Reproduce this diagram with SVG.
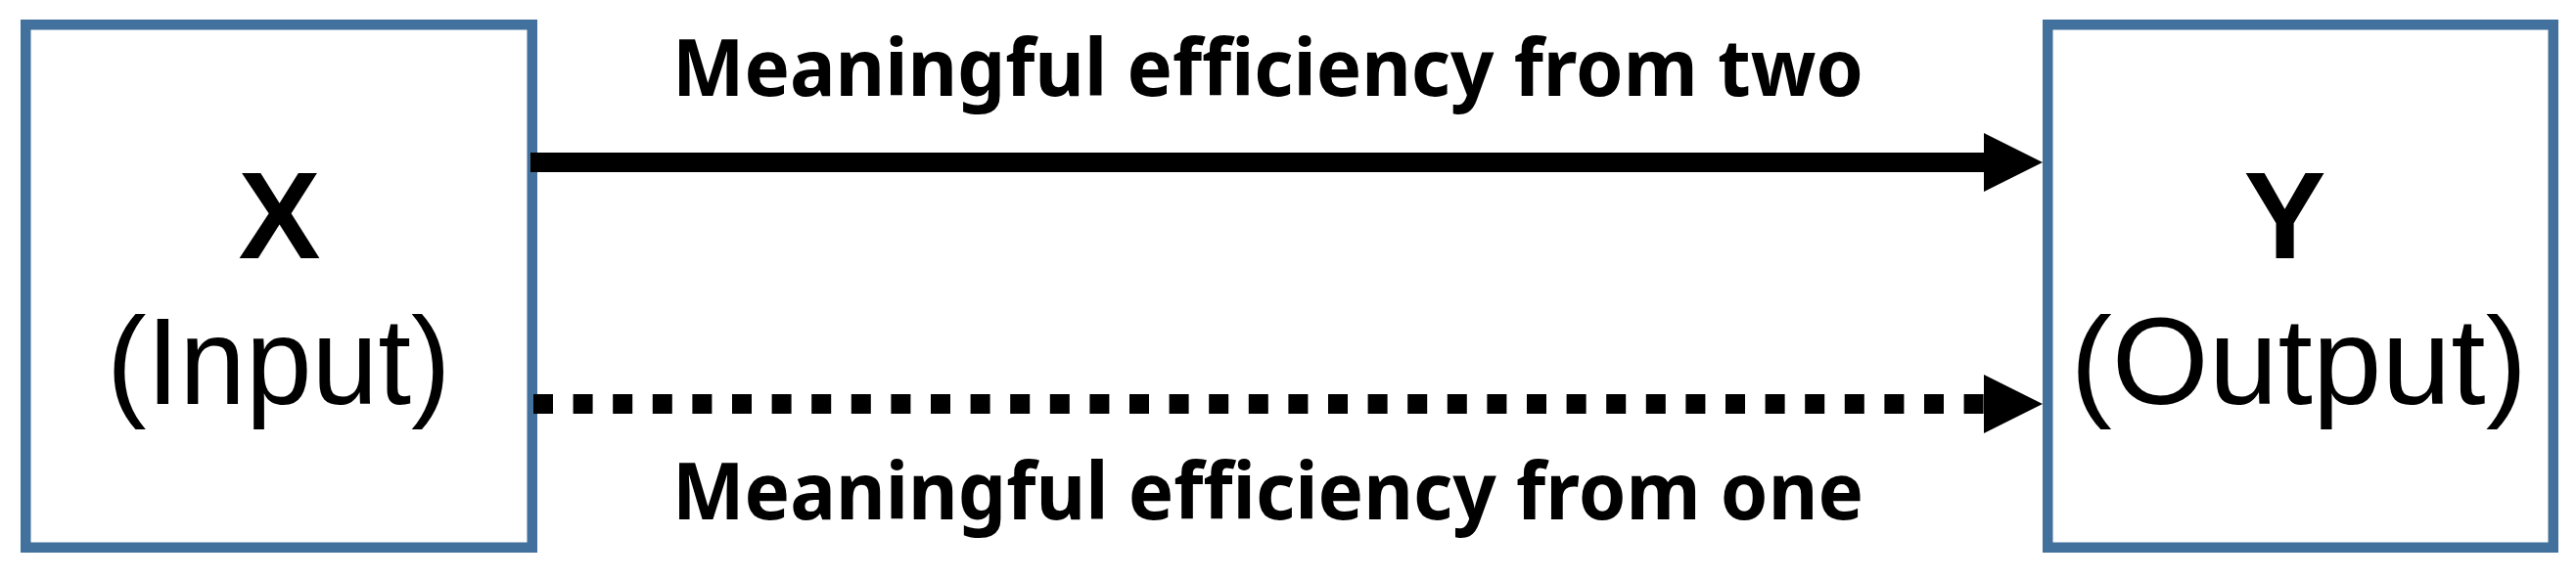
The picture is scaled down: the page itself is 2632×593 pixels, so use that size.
<svg xmlns="http://www.w3.org/2000/svg" width="2632" height="593" viewBox="0 0 2632 593">
<style>
.box{fill:#ffffff;stroke:#41719C;stroke-width:10.5}
.big{font-family:"Liberation Sans","Noto Sans",sans-serif;font-size:126px;fill:#000}
.bold{font-weight:bold}
.lbl{font-family:"Noto Sans","Open Sans","Liberation Sans",sans-serif;font-size:80px;font-weight:bold;fill:#000}
.conn{stroke:#000;stroke-width:20;fill:none}
</style>
<defs>
<marker id="ah" viewBox="0 0 60 60" refX="0" refY="30" markerWidth="60" markerHeight="60" markerUnits="userSpaceOnUse" orient="auto">
<path d="M0,0 L60,30 L0,60 Z" fill="#000"/>
</marker>
</defs>
<rect width="2632" height="593" fill="#ffffff"/>
<g id="node-x">
<rect class="box" x="26.25" y="25.25" width="517.5" height="534.5"/>
<text class="big bold" x="285.4" y="263.6" text-anchor="middle">X</text>
<text class="big" x="109" y="413" textLength="351.6" lengthAdjust="spacingAndGlyphs">(Input)</text>
</g>
<g id="node-y">
<rect class="box" x="2092.25" y="25.25" width="516.5" height="534.5"/>
<text class="big bold" x="2334.6" y="263.6" text-anchor="middle">Y</text>
<text class="big" x="2115.4" y="412.7" textLength="466.7" lengthAdjust="spacingAndGlyphs">(Output)</text>
</g>
<g id="connectors">
<line class="conn" x1="542" y1="166" x2="2027" y2="166" marker-end="url(#ah)"/>
<line class="conn" x1="545" y1="413" x2="2027" y2="413" stroke-dasharray="20 20.6" marker-end="url(#ah)"/>
<text class="lbl" x="687" y="98.3" textLength="1217" lengthAdjust="spacingAndGlyphs">Meaningful efficiency from two</text>
<text class="lbl" x="687" y="531.3" textLength="1217" lengthAdjust="spacingAndGlyphs">Meaningful efficiency from one</text>
</g>
</svg>
